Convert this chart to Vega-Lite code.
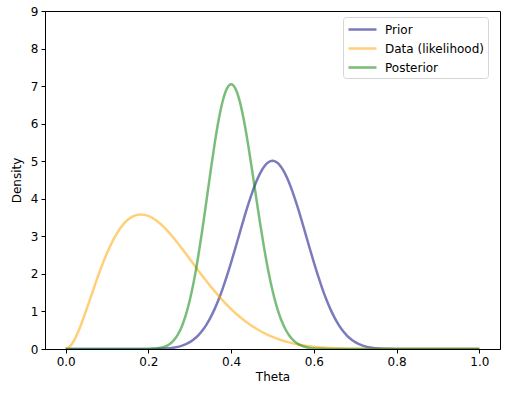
{
  "$schema": "https://vega.github.io/schema/vega-lite/v6.json",
  "width": 455,
  "height": 338,
  "autosize": {"type": "none"},
  "padding": {"left": 45, "top": 11, "right": 12, "bottom": 44},
  "background": "white",
  "config": {
    "font": "DejaVu Sans",
    "view": {"stroke": "black", "strokeWidth": 1},
    "axis": {
      "grid": false,
      "domainColor": "black",
      "tickColor": "black",
      "tickSize": 4,
      "labelFontSize": 12,
      "labelColor": "black",
      "titleFontSize": 12,
      "titleFontWeight": "normal",
      "titleColor": "black",
      "labelPadding": 3
    }
  },
  "data": {
    "values": [
      {"t": 0.0, "s": "Prior", "d": 0},
      {"t": 0.1, "s": "Prior", "d": 0},
      {"t": 0.14, "s": "Prior", "d": 0},
      {"t": 0.16, "s": "Prior", "d": 0.00004},
      {"t": 0.18, "s": "Prior", "d": 0.0002},
      {"t": 0.2, "s": "Prior", "d": 0.001},
      {"t": 0.22, "s": "Prior", "d": 0.0039},
      {"t": 0.24, "s": "Prior", "d": 0.0125},
      {"t": 0.26, "s": "Prior", "d": 0.0346},
      {"t": 0.28, "s": "Prior", "d": 0.084},
      {"t": 0.3, "s": "Prior", "d": 0.1825},
      {"t": 0.31, "s": "Prior", "d": 0.2588},
      {"t": 0.32, "s": "Prior", "d": 0.3585},
      {"t": 0.33, "s": "Prior", "d": 0.4855},
      {"t": 0.34, "s": "Prior", "d": 0.6433},
      {"t": 0.35, "s": "Prior", "d": 0.835},
      {"t": 0.36, "s": "Prior", "d": 1.062},
      {"t": 0.37, "s": "Prior", "d": 1.325},
      {"t": 0.38, "s": "Prior", "d": 1.623},
      {"t": 0.39, "s": "Prior", "d": 1.952},
      {"t": 0.4, "s": "Prior", "d": 2.307},
      {"t": 0.41, "s": "Prior", "d": 2.68},
      {"t": 0.42, "s": "Prior", "d": 3.061},
      {"t": 0.43, "s": "Prior", "d": 3.44},
      {"t": 0.44, "s": "Prior", "d": 3.803},
      {"t": 0.45, "s": "Prior", "d": 4.139},
      {"t": 0.46, "s": "Prior", "d": 4.435},
      {"t": 0.47, "s": "Prior", "d": 4.678},
      {"t": 0.48, "s": "Prior", "d": 4.86},
      {"t": 0.49, "s": "Prior", "d": 4.972},
      {"t": 0.5, "s": "Prior", "d": 5.01},
      {"t": 0.51, "s": "Prior", "d": 4.972},
      {"t": 0.52, "s": "Prior", "d": 4.86},
      {"t": 0.53, "s": "Prior", "d": 4.678},
      {"t": 0.54, "s": "Prior", "d": 4.435},
      {"t": 0.55, "s": "Prior", "d": 4.139},
      {"t": 0.56, "s": "Prior", "d": 3.803},
      {"t": 0.57, "s": "Prior", "d": 3.44},
      {"t": 0.58, "s": "Prior", "d": 3.061},
      {"t": 0.59, "s": "Prior", "d": 2.68},
      {"t": 0.6, "s": "Prior", "d": 2.307},
      {"t": 0.61, "s": "Prior", "d": 1.952},
      {"t": 0.62, "s": "Prior", "d": 1.623},
      {"t": 0.63, "s": "Prior", "d": 1.325},
      {"t": 0.64, "s": "Prior", "d": 1.062},
      {"t": 0.65, "s": "Prior", "d": 0.835},
      {"t": 0.66, "s": "Prior", "d": 0.6433},
      {"t": 0.67, "s": "Prior", "d": 0.4855},
      {"t": 0.68, "s": "Prior", "d": 0.3585},
      {"t": 0.69, "s": "Prior", "d": 0.2588},
      {"t": 0.7, "s": "Prior", "d": 0.1825},
      {"t": 0.72, "s": "Prior", "d": 0.084},
      {"t": 0.74, "s": "Prior", "d": 0.0346},
      {"t": 0.76, "s": "Prior", "d": 0.0125},
      {"t": 0.78, "s": "Prior", "d": 0.0039},
      {"t": 0.8, "s": "Prior", "d": 0.001},
      {"t": 0.82, "s": "Prior", "d": 0.0002},
      {"t": 0.84, "s": "Prior", "d": 0.00004},
      {"t": 0.86, "s": "Prior", "d": 0},
      {"t": 0.9, "s": "Prior", "d": 0},
      {"t": 1.0, "s": "Prior", "d": 0},

      {"t": 0.0, "s": "Data (likelihood)", "d": 0},
      {"t": 0.01, "s": "Data (likelihood)", "d": 0.0603},
      {"t": 0.02, "s": "Data (likelihood)", "d": 0.2201},
      {"t": 0.03, "s": "Data (likelihood)", "d": 0.4516},
      {"t": 0.04, "s": "Data (likelihood)", "d": 0.7313},
      {"t": 0.06, "s": "Data (likelihood)", "d": 1.3615},
      {"t": 0.08, "s": "Data (likelihood)", "d": 1.9946},
      {"t": 0.1, "s": "Data (likelihood)", "d": 2.557},
      {"t": 0.12, "s": "Data (likelihood)", "d": 3.008},
      {"t": 0.14, "s": "Data (likelihood)", "d": 3.33},
      {"t": 0.16, "s": "Data (likelihood)", "d": 3.518},
      {"t": 0.18, "s": "Data (likelihood)", "d": 3.584},
      {"t": 0.2, "s": "Data (likelihood)", "d": 3.543},
      {"t": 0.22, "s": "Data (likelihood)", "d": 3.415},
      {"t": 0.24, "s": "Data (likelihood)", "d": 3.216},
      {"t": 0.26, "s": "Data (likelihood)", "d": 2.969},
      {"t": 0.28, "s": "Data (likelihood)", "d": 2.69},
      {"t": 0.3, "s": "Data (likelihood)", "d": 2.397},
      {"t": 0.32, "s": "Data (likelihood)", "d": 2.1},
      {"t": 0.34, "s": "Data (likelihood)", "d": 1.813},
      {"t": 0.36, "s": "Data (likelihood)", "d": 1.5405},
      {"t": 0.38, "s": "Data (likelihood)", "d": 1.29},
      {"t": 0.4, "s": "Data (likelihood)", "d": 1.064},
      {"t": 0.42, "s": "Data (likelihood)", "d": 0.865},
      {"t": 0.44, "s": "Data (likelihood)", "d": 0.692},
      {"t": 0.46, "s": "Data (likelihood)", "d": 0.545},
      {"t": 0.48, "s": "Data (likelihood)", "d": 0.4227},
      {"t": 0.5, "s": "Data (likelihood)", "d": 0.322},
      {"t": 0.52, "s": "Data (likelihood)", "d": 0.2413},
      {"t": 0.54, "s": "Data (likelihood)", "d": 0.1773},
      {"t": 0.56, "s": "Data (likelihood)", "d": 0.1278},
      {"t": 0.58, "s": "Data (likelihood)", "d": 0.0902},
      {"t": 0.6, "s": "Data (likelihood)", "d": 0.0623},
      {"t": 0.62, "s": "Data (likelihood)", "d": 0.0419},
      {"t": 0.64, "s": "Data (likelihood)", "d": 0.0274},
      {"t": 0.66, "s": "Data (likelihood)", "d": 0.01745},
      {"t": 0.68, "s": "Data (likelihood)", "d": 0.01074},
      {"t": 0.7, "s": "Data (likelihood)", "d": 0.00637},
      {"t": 0.72, "s": "Data (likelihood)", "d": 0.00362},
      {"t": 0.74, "s": "Data (likelihood)", "d": 0.00196},
      {"t": 0.76, "s": "Data (likelihood)", "d": 0.001},
      {"t": 0.78, "s": "Data (likelihood)", "d": 0.0005},
      {"t": 0.8, "s": "Data (likelihood)", "d": 0.0002},
      {"t": 0.82, "s": "Data (likelihood)", "d": 0.0001},
      {"t": 0.85, "s": "Data (likelihood)", "d": 0},
      {"t": 0.9, "s": "Data (likelihood)", "d": 0},
      {"t": 1.0, "s": "Data (likelihood)", "d": 0},

      {"t": 0.0, "s": "Posterior", "d": 0},
      {"t": 0.1, "s": "Posterior", "d": 0},
      {"t": 0.15, "s": "Posterior", "d": 0},
      {"t": 0.18, "s": "Posterior", "d": 0.0003},
      {"t": 0.2, "s": "Posterior", "d": 0.0028},
      {"t": 0.21, "s": "Posterior", "d": 0.0068},
      {"t": 0.22, "s": "Posterior", "d": 0.0154},
      {"t": 0.23, "s": "Posterior", "d": 0.0326},
      {"t": 0.24, "s": "Posterior", "d": 0.0649},
      {"t": 0.25, "s": "Posterior", "d": 0.1218},
      {"t": 0.26, "s": "Posterior", "d": 0.216},
      {"t": 0.27, "s": "Posterior", "d": 0.363},
      {"t": 0.28, "s": "Posterior", "d": 0.581},
      {"t": 0.29, "s": "Posterior", "d": 0.888},
      {"t": 0.3, "s": "Posterior", "d": 1.296},
      {"t": 0.31, "s": "Posterior", "d": 1.814},
      {"t": 0.32, "s": "Posterior", "d": 2.438},
      {"t": 0.33, "s": "Posterior", "d": 3.15},
      {"t": 0.34, "s": "Posterior", "d": 3.921},
      {"t": 0.35, "s": "Posterior", "d": 4.707},
      {"t": 0.36, "s": "Posterior", "d": 5.455},
      {"t": 0.37, "s": "Posterior", "d": 6.109},
      {"t": 0.38, "s": "Posterior", "d": 6.618},
      {"t": 0.39, "s": "Posterior", "d": 6.94},
      {"t": 0.4, "s": "Posterior", "d": 7.05},
      {"t": 0.41, "s": "Posterior", "d": 6.941},
      {"t": 0.42, "s": "Posterior", "d": 6.627},
      {"t": 0.43, "s": "Posterior", "d": 6.138},
      {"t": 0.44, "s": "Posterior", "d": 5.516},
      {"t": 0.45, "s": "Posterior", "d": 4.811},
      {"t": 0.46, "s": "Posterior", "d": 4.074},
      {"t": 0.47, "s": "Posterior", "d": 3.349},
      {"t": 0.48, "s": "Posterior", "d": 2.673},
      {"t": 0.49, "s": "Posterior", "d": 2.071},
      {"t": 0.5, "s": "Posterior", "d": 1.557},
      {"t": 0.51, "s": "Posterior", "d": 1.136},
      {"t": 0.52, "s": "Posterior", "d": 0.805},
      {"t": 0.53, "s": "Posterior", "d": 0.5525},
      {"t": 0.54, "s": "Posterior", "d": 0.3677},
      {"t": 0.55, "s": "Posterior", "d": 0.2372},
      {"t": 0.56, "s": "Posterior", "d": 0.1481},
      {"t": 0.57, "s": "Posterior", "d": 0.0895},
      {"t": 0.58, "s": "Posterior", "d": 0.0523},
      {"t": 0.59, "s": "Posterior", "d": 0.0295},
      {"t": 0.6, "s": "Posterior", "d": 0.0161},
      {"t": 0.62, "s": "Posterior", "d": 0.0043},
      {"t": 0.64, "s": "Posterior", "d": 0.001},
      {"t": 0.67, "s": "Posterior", "d": 0},
      {"t": 0.7, "s": "Posterior", "d": 0},
      {"t": 0.8, "s": "Posterior", "d": 0},
      {"t": 0.9, "s": "Posterior", "d": 0},
      {"t": 1.0, "s": "Posterior", "d": 0}
    ]
  },
  "mark": {"type": "line", "interpolate": "monotone", "strokeWidth": 2.5, "opacity": 0.52, "clip": true},
  "encoding": {
    "x": {
      "field": "t",
      "type": "quantitative",
      "scale": {"domain": [-0.05, 1.05], "nice": false, "zero": false},
      "axis": {"values": [0, 0.2, 0.4, 0.6, 0.8, 1.0], "format": ".1f", "title": "Theta", "titlePadding": 4}
    },
    "y": {
      "field": "d",
      "type": "quantitative",
      "scale": {"domain": [0, 9], "nice": false},
      "axis": {"values": [0, 1, 2, 3, 4, 5, 6, 7, 8, 9], "format": "d", "title": "Density", "titlePadding": 7}
    },
    "color": {
      "field": "s",
      "type": "nominal",
      "scale": {"domain": ["Prior", "Data (likelihood)", "Posterior"], "range": ["#000080", "#ffa500", "#008000"]},
      "legend": {
        "title": null,
        "orient": "none",
        "legendX": 298,
        "legendY": 6,
        "symbolType": "M-1,0H3",
        "symbolSize": 196,
        "symbolStrokeWidth": 2.5,
        "symbolOpacity": 0.52,
        "labelFontSize": 12,
        "labelColor": "black",
        "labelOffset": 21,
        "rowPadding": 4,
        "padding": 4,
        "fillColor": "white",
        "strokeColor": "#d6d6d6",
        "cornerRadius": 3
      }
    },
    "order": {"field": "t", "type": "quantitative"}
  }
}
